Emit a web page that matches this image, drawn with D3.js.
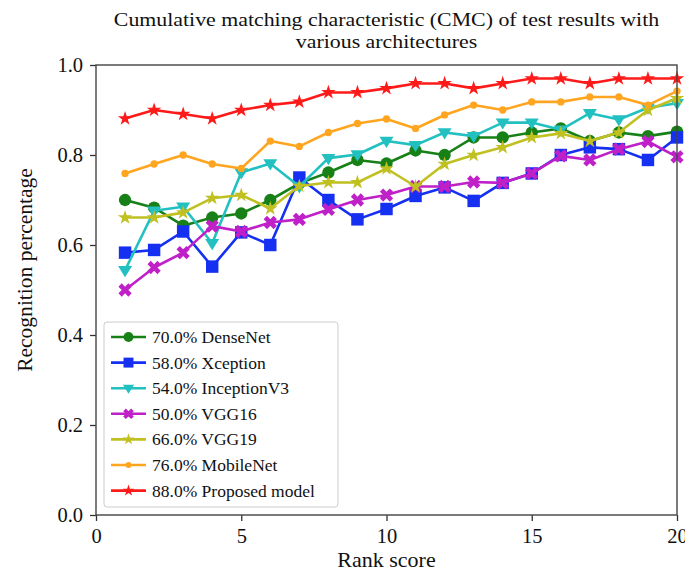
<!DOCTYPE html>
<html>
<head>
<meta charset="utf-8">
<script src="https://cdn.jsdelivr.net/npm/d3@7"></script>
<style>
  html, body { margin: 0; padding: 0; background: #fff; }
  svg { display: block; font-family: "Liberation Serif", "Times New Roman", serif; }
</style>
</head>
<body>
<svg id="chart" width="685" height="573"></svg>
<script>
const ranks = d3.range(1, 21);
const densenet   = [0.70,0.683,0.643,0.661,0.670,0.70,0.737,0.761,0.789,0.781,0.81,0.80,0.839,0.839,0.85,0.859,0.831,0.85,0.842,0.852];
const xception   = [0.583,0.589,0.63,0.552,0.628,0.60,0.75,0.70,0.657,0.68,0.709,0.728,0.698,0.738,0.759,0.80,0.817,0.813,0.789,0.839];
const inception  = [0.544,0.676,0.685,0.604,0.761,0.781,0.73,0.793,0.801,0.831,0.822,0.85,0.842,0.872,0.872,0.856,0.893,0.879,0.905,0.915];
const vgg16      = [0.50,0.55,0.583,0.642,0.63,0.65,0.657,0.679,0.70,0.711,0.73,0.73,0.74,0.738,0.759,0.798,0.789,0.813,0.83,0.796];
const vgg19      = [0.661,0.661,0.672,0.704,0.711,0.681,0.731,0.739,0.739,0.77,0.73,0.78,0.80,0.817,0.839,0.848,0.831,0.85,0.90,0.926];
const mobilenet  = [0.759,0.78,0.80,0.78,0.77,0.831,0.819,0.85,0.87,0.88,0.859,0.889,0.911,0.90,0.918,0.918,0.929,0.929,0.911,0.942];
const proposed   = [0.881,0.90,0.891,0.881,0.90,0.911,0.918,0.939,0.939,0.948,0.959,0.959,0.948,0.959,0.97,0.97,0.959,0.97,0.97,0.97];

const seriesNames = ["70.0% DenseNet","58.0% Xception","54.0% InceptionV3","50.0% VGG16","66.0% VGG19","76.0% MobileNet","88.0% Proposed model"];
const seriesValues = [densenet, xception, inception, vgg16, vgg19, mobilenet, proposed];
const xTicks = [0, 5, 10, 15, 20];
const yTicks = [0.0, 0.2, 0.4, 0.6, 0.8, 1.0];
const titleLines = ["Cumulative matching characteristic (CMC) of test results with", "various architectures"];
const xLabel = "Rank score";
const yLabel = "Recognition percentage";

const colors = ["#178017", "#1530f0", "#22c0c0", "#c020c8", "#c0c020", "#ffa520", "#ff1a1a"];
const markers = ["circle", "square", "tridown", "x", "star", "point", "star"];

const svg = d3.select("#chart");
const M = {left: 96, right: 677, top: 65, bottom: 515};
const x = d3.scaleLinear().domain([0, 20]).range([M.left, M.right]);
const y = d3.scaleLinear().domain([0, 1]).range([M.bottom, M.top]);

function markerPath(type, s) {
  switch (type) {
    case "circle": return d3.symbol(d3.symbolCircle, 120 * s * s)();
    case "square": return d3.symbol(d3.symbolSquare, 155 * s * s)();
    case "tridown": { const a = 7 * s; return `M${-a},${-a*0.6}L${a},${-a*0.6}L0,${a*1.0}Z`; }
    case "x": return d3.symbol(d3.symbolCross, 110 * s * s)();
    case "star": return d3.symbol(d3.symbolStar, 65 * s * s)();
    case "point": return d3.symbol(d3.symbolCircle, 42 * s * s)();
  }
}
function markerRot(type) { return type === "x" ? 45 : 0; }

// title
svg.append("g").selectAll("text").data(titleLines).join("text")
  .attr("transform", (d, i) => `translate(${(M.left + M.right) / 2},${26 + i * 21.5}) scale(1.15,1)`)
  .attr("text-anchor", "middle").attr("font-size", 19).attr("fill", "#111")
  .text(d => d);

// axes
const xAxis = svg.append("g").attr("transform", `translate(0,${M.bottom})`)
  .call(d3.axisBottom(x).tickValues(xTicks).tickFormat(d3.format("d")).tickSize(6).tickPadding(4));
const yAxis = svg.append("g").attr("transform", `translate(${M.left},0)`)
  .call(d3.axisLeft(y).tickValues(yTicks).tickFormat(d3.format(".1f")).tickSize(6).tickPadding(7));
[xAxis, yAxis].forEach(g => {
  g.select(".domain").remove();
  g.selectAll("line").attr("stroke", "#333").attr("stroke-width", 1.3);
  g.selectAll("text").attr("font-family", "Liberation Serif, serif").attr("font-size", 20.5).attr("fill", "#111");
});
xAxis.selectAll("text").attr("y", 28).attr("dy", 0);

// series lines + markers
const line = d3.line().x((d, i) => x(ranks[i])).y(d => y(d));
seriesValues.forEach((vals, k) => {
  const g = svg.append("g");
  g.append("path").datum(vals).attr("d", line).attr("fill", "none")
    .attr("stroke", colors[k]).attr("stroke-width", 2.6).attr("stroke-linejoin", "round");
  g.selectAll("path.m").data(vals).join("path").attr("class", "m")
    .attr("d", markerPath(markers[k], 1))
    .attr("transform", (d, i) => `translate(${x(ranks[i])},${y(d)}) rotate(${markerRot(markers[k])})`)
    .attr("fill", colors[k]);
});

// frame
svg.append("rect").attr("x", M.left).attr("y", M.top)
  .attr("width", M.right - M.left).attr("height", M.bottom - M.top)
  .attr("fill", "none").attr("stroke", "#444").attr("stroke-width", 1.4);

// axis labels
svg.append("text").attr("transform", `translate(${(M.left + M.right) / 2},567) scale(1.1,1)`)
  .attr("text-anchor", "middle").attr("font-size", 20).attr("fill", "#111").text(xLabel);
svg.append("text").attr("transform", `translate(32,270) rotate(-90) scale(1.05,1)`)
  .attr("text-anchor", "middle").attr("font-size", 20.5).attr("fill", "#111").text(yLabel);

// legend
const lg = svg.append("g");
lg.append("rect").attr("x", 104).attr("y", 322).attr("width", 234).attr("height", 185)
  .attr("rx", 3).attr("fill", "#fff").attr("fill-opacity", 0.85).attr("stroke", "#ccc").attr("stroke-width", 1);
seriesNames.forEach((name, k) => {
  const yy = 337 + k * 25.6;
  lg.append("line").attr("x1", 111).attr("x2", 146).attr("y1", yy).attr("y2", yy)
    .attr("stroke", colors[k]).attr("stroke-width", 2.6);
  lg.append("path").attr("d", markerPath(markers[k], 0.8))
    .attr("transform", `translate(128.5,${yy}) rotate(${markerRot(markers[k])})`).attr("fill", colors[k]);
  lg.append("text").attr("x", 152).attr("y", yy + 6).attr("font-size", 17.5).attr("fill", "#111").text(name);
});
</script>
</body>
</html>
